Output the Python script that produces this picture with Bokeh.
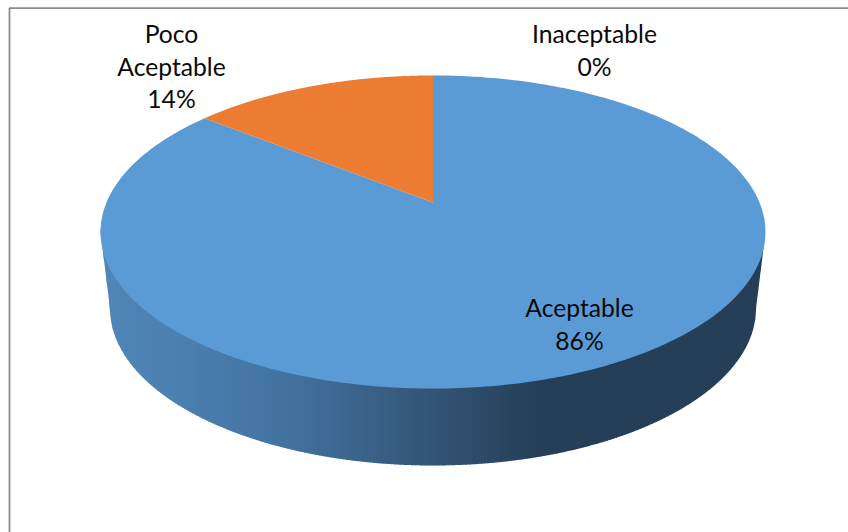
import numpy as np
from bokeh.embed import file_html
from bokeh.models import ColumnDataSource, Range1d
from bokeh.plotting import figure
from bokeh.resources import INLINE
from bokeh.core.properties import value

# Survey shares, clockwise from twelve o'clock
categories = ["Aceptable", "Inaceptable", "Poco\nAceptable"]
shares = [85.7, 0.0, 14.3]
slice_colors = ["#5B9BD5", "#A5A5A5", "#EB7C31"]

# Wall shading, left to right across the pie
wall_stops = [100, 200, 300, 424, 540, 765]
wall_colors = ["#4F87B8", "#4A7DAE", "#41709C", "#345677", "#243F57", "#243F57"]

# Label anchors, each a block's horizontal centre and first line's centre
label_x = [579, 594, 171]
label_y = [307, 33, 33]
line_step = 32.5

W, H = 848, 532
CX = 432.5
TILT = 59 / 313
RX_FLAT = 326.5
A, B = -112.9, 202


def project(theta):
    """Tilted-disc perspective: theta is clockwise from the top of the pie."""
    x, y = np.sin(theta), np.cos(theta)
    d = 1 + TILT * y
    return CX + RX_FLAT * x / d, (A * y + B) / d


p = figure(width=W, height=H, output_backend="svg", toolbar_location=None,
           x_range=Range1d(0, W), y_range=Range1d(H, 0), min_border=0)
p.axis.visible = False
p.grid.visible = False
p.outline_line_color = None
p.background_fill_color = "white"
p.border_fill_color = "white"

# Chart frame
p.line([9, 9, W], [H, 7.6, 7.6], line_color="#8C8C8C", line_width=1.8)

# Outer wall as narrow vertical strips between the two front rims
t = np.linspace(np.pi / 2 - 0.2, 3 * np.pi / 2 + 0.2, 1500)
top_u, top_v = project(t)
order = np.argsort(top_u)
top_u, top_v = top_u[order], top_v[order]
rim_rx, rim_cy, rim_ry = 323.0, 308.0, 157.0
xs, ys, cs = [], [], []
edges = np.arange(100.0, 766.0, 3.0)
for left, right in zip(edges[:-1], edges[1:]):
    col = np.linspace(left, min(right + 0.6, 765), 5)
    rim_top = np.interp(col, top_u, top_v)
    clipped = np.clip((col - CX) / rim_rx, -1, 1)
    rim_low = rim_cy + rim_ry * np.sqrt(1 - clipped ** 2)
    # Beyond the lower rim's width the wall closes along a straight edge
    edge_frac = np.clip((np.abs(col - CX) - rim_rx) / (332.5 - rim_rx), 0, 1)
    rim_low = rim_low + (231.5 - rim_cy) * edge_frac
    rim_low = np.maximum(rim_low, rim_top)
    xs.append(list(col) + list(col[::-1]))
    ys.append(list(rim_top - 1) + list(rim_low[::-1]))
    mid = (left + right) / 2
    rgb = [np.interp(mid, wall_stops, [int(c[i:i + 2], 16) for c in wall_colors]) for i in (1, 3, 5)]
    cs.append("#%02X%02X%02X" % tuple(int(round(v)) for v in rgb))
p.patches(xs, ys, fill_color=cs, line_color=None)

# Top face: the slices run clockwise from twelve o'clock
start = 0.0
for share, color in zip(shares, slice_colors):
    sweep = share / sum(shares) * 2 * np.pi
    if sweep > 0:
        a = np.linspace(start, start + sweep, 400)
        u, v = project(a)
        p.patch(list(u) + [CX], list(v) + [B], fill_color=color, line_color=None)
    start += sweep

# Data labels, one row per text line, with the share beneath the name
tx, ty, tt = [], [], []
for name, share, x0, y0 in zip(categories, shares, label_x, label_y):
    lines = name.split("\n") + [f"{share:.0f}%"]
    for i, line in enumerate(lines):
        tx.append(x0)
        ty.append(y0 + i * line_step)
        tt.append(line)
src = ColumnDataSource(dict(x=tx, y=ty, text=tt))
p.text("x", "y", text="text", source=src, text_align="center", text_baseline="middle",
       text_font=value("Lato"), text_font_size="24.7px", text_color="#0A0A0A")

open("out.html", "w").write(file_html(p, INLINE))
